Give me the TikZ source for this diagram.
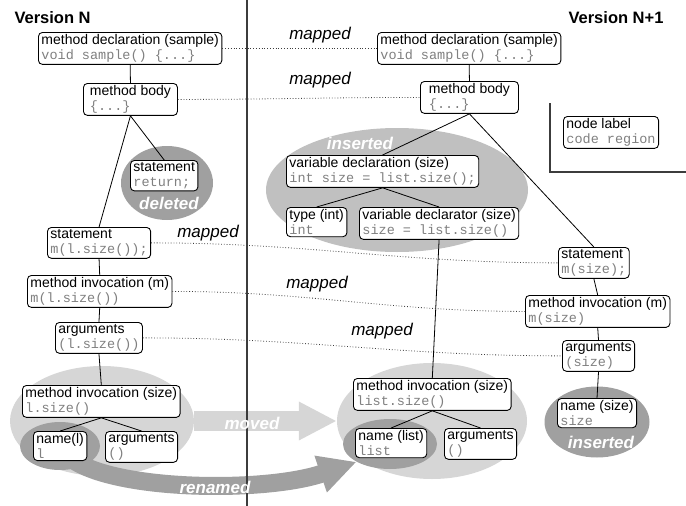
\documentclass[tikz,border=0pt]{standalone}
\usepackage{fontspec}
\setmainfont{Liberation Sans}
\setmonofont{Liberation Mono}
\usetikzlibrary{arrows.meta, positioning, shapes.geometric}
\definecolor{CodeGray}{RGB}{128,128,128}
\definecolor{MovedGray}{RGB}{214,214,214}
\definecolor{InsGray}{RGB}{192,192,192}
\definecolor{DarkGray}{RGB}{160,160,160}
\definecolor{LineGray}{RGB}{60,60,60}
\newcommand{\astnode}[2]{#1\\{\ttfamily\fontsize{13.5}{15}\selectfont\color{CodeGray}#2}}

\begin{document}
\begin{tikzpicture}[
      x=1pt, y=-1pt,
      font=\fontsize{14}{15}\selectfont,
      box/.style={draw, line width=0.9pt, rounded corners=4pt, fill=white,
                  align=left, inner xsep=3pt, inner ysep=2pt, anchor=north west},
      blob/.style={ellipse, inner sep=0pt},
      chg/.style={text=white, font=\fontsize{17}{18}\selectfont\bfseries\itshape},
      maplabel/.style={font=\fontsize{17}{18}\selectfont\itshape},
      maplink/.style={dotted, line width=0.8pt, LineGray},
      link/.style={line width=0.8pt},
      bigarrow/.style={line width=20pt, -{Triangle[length=38pt, width=36pt]}},
      title/.style={font=\fontsize{16.5}{18}\selectfont\bfseries}
    ]
      \useasboundingbox (0,0) rectangle (686,506);

      % change regions
      \node[blob, fill=MovedGray, minimum width=184pt, minimum height=110pt] (movL) at (102,421) {};
      \node[blob, fill=MovedGray, minimum width=190pt, minimum height=116pt] (movR) at (432,421) {};
      \node[blob, fill=InsGray, minimum width=262pt, minimum height=124pt] (insL) at (397,190) {};
      \node[blob, fill=DarkGray, minimum width=92pt, minimum height=74pt] (delL) at (167,183) {};
      \node[blob, fill=DarkGray, minimum width=105pt, minimum height=71pt] (insR) at (597,422) {};
      \draw[bigarrow, MovedGray] (movL.east) -- (movR.west);
      \node[blob, fill=DarkGray, minimum width=80pt, minimum height=48pt] (renL) at (60,446) {};
      \node[blob, fill=DarkGray, minimum width=94pt, minimum height=50pt] (renR) at (390,444) {};
      \draw[bigarrow, DarkGray, line width=18pt] (renL.center) .. controls +(20,45) and +(-97,33) .. (renR.south west);

      \draw[line width=1.5pt, LineGray] (247,0) -- (247,506);

      \node[chg] (tmoved) at (252,423) {moved};
      \node[chg] (trenamed) at (215,487) {renamed};
      \node[chg] (tdeleted) at (169,203) {deleted};
      \node[chg] (tinsL) at (360,143) {inserted};
      \node[chg] (tinsR) at (601,442) {inserted};

      \node[title, anchor=west] (vN) at (11,18) {Version N};
      \node[title, anchor=east] (vN1) at (667,18) {Version N+1};

      % version N
      \node[box] (md1) at (38,32) {\astnode{method declaration (sample)}{void sample() \{...\}}};
      \node[box, minimum width=94pt] (mb1) at (83,83) {\astnode{method body}{\{...\}}};
      \node[box] (del1) at (130,160) {\astnode{statement}{return;}};
      \node[box] (st1) at (47,227) {\astnode{statement}{m(l.size());}};
      \node[box] (mi1) at (27,275) {\astnode{method invocation (m)}{m(l.size())}};
      \node[box] (args1) at (55,322) {\astnode{arguments}{(l.size())}};
      \node[box] (mis1) at (22,385) {\astnode{method invocation (size)}{l.size()}};
      \node[box] (name1) at (33,431) {\astnode{name(l)}{l}};
      \node[box] (args1b) at (105,431) {\astnode{arguments}{()}};

      % version N+1
      \node[box] (md2) at (377,32) {\astnode{method declaration (sample)}{void sample() \{...\}}};
      \node[box, minimum width=98pt] (mb2) at (420,81) {\astnode{method body}{\{...\}}};
      \node[box] (vd2) at (286,155) {\astnode{variable declaration (size)}{int size = list.size();}};
      \node[box] (type2) at (286,207) {\astnode{type (int)}{int}};
      \node[box] (vdr2) at (359,207) {\astnode{variable declarator (size)}{size = list.size()}};
      \node[box] (st2) at (558,247) {\astnode{statement}{m(size);}};
      \node[box] (mi2) at (525,295) {\astnode{method invocation (m)}{m(size)}};
      \node[box] (args2) at (562,340) {\astnode{arguments}{(size)}};
      \node[box] (name2) at (557,398) {\astnode{name (size)}{size}};
      \node[box] (mis2) at (353,378) {\astnode{method invocation (size)}{list.size()}};
      \node[box] (name2l) at (355,428) {\astnode{name (list)}{list}};
      \node[box] (args2b) at (444,428) {\astnode{arguments}{()}};

      % legend
      \node[box] (legend) at (563,116) {\astnode{node label}{code region}};
      \draw[line width=1.2pt, LineGray] (550,103) -- (550,172) -- (686,172);

      % tree edges
      \draw[link] (md1.south) -- (mb1.north);
      \draw[link] (mb1.south) -- (st1.north);
      \draw[link] (mb1.south) -- (del1.north);
      \draw[link] (st1.south) -- (mi1.north);
      \draw[link] (mi1.south) -- (args1.north);
      \draw[link] (args1.south) -- (mis1.north);
      \draw[link] (mis1.south) -- (name1.north);
      \draw[link] (mis1.south) -- (args1b.north);
      \draw[link] (md2.south) -- (mb2.north);
      \draw[link] (mb2.south) -- (vd2.north);
      \draw[link] (mb2.south) -- (st2.north);
      \draw[link] (vd2.south) -- (type2.north);
      \draw[link] (vd2.south) -- (vdr2.north);
      \draw[link] (vdr2.south) -- (mis2.north);
      \draw[link] (st2.south) -- (mi2.north);
      \draw[link] (mi2.south) -- (args2.north);
      \draw[link] (args2.south) -- (name2.north);
      \draw[link] (mis2.south) -- (name2l.north);
      \draw[link] (mis2.south) -- (args2b.north);

      % mappings
      \draw[maplink] (md1.east) -- (md2.west);
      \draw[maplink] (mb1.east) to[out=0, in=180] (mb2.west);
      \draw[maplink] (st1.east) to[out=0, in=180] (st2.west);
      \draw[maplink] (mi1.east) to[out=0, in=180] (mi2.west);
      \draw[maplink] (args1.east) to[out=0, in=180] (args2.west);
      \node[maplabel] (m1) at (320,35) {mapped};
      \node[maplabel] (m2) at (320,80) {mapped};
      \node[maplabel] (m3) at (208,233) {mapped};
      \node[maplabel] (m4) at (317,284) {mapped};
      \node[maplabel] (m5) at (382,331) {mapped};
    \end{tikzpicture}
\end{document}
